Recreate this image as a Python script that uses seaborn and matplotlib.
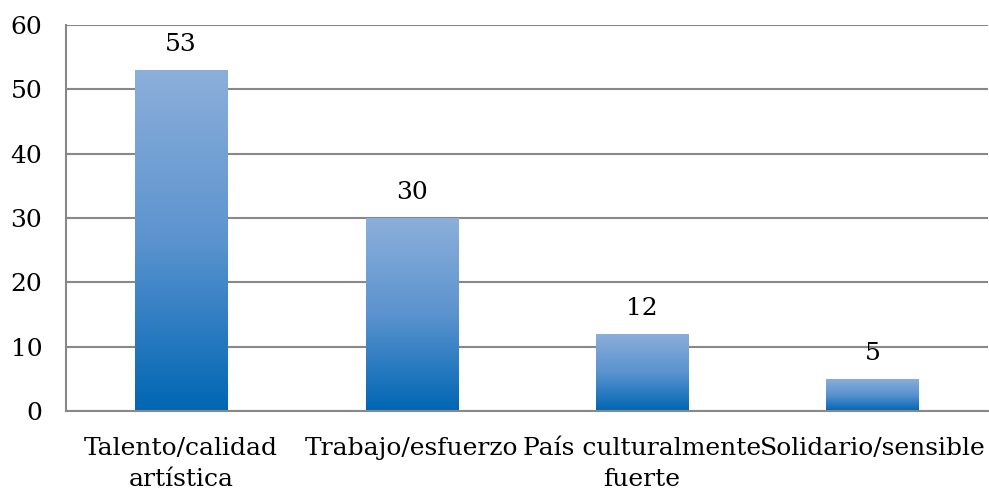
import matplotlib.pyplot as plt
import matplotlib.colors as mcolors
import numpy as np
import seaborn as sns
import pandas as pd

categorias = ['Talento/calidad\nartística', 'Trabajo/esfuerzo',
              'País culturalmente\nfuerte', 'Solidario/sensible']
valores = [53, 30, 12, 5]

sns.set_style('white')
plt.rcParams.update({'font.family': ['DejaVu Serif'],
                     'font.size': 18,
                     'text.color': 'black',
                     'xtick.labelcolor': 'black',
                     'ytick.labelcolor': 'black'})

fig = plt.figure(figsize=(9.89, 4.92), dpi=100)
ax = fig.add_axes([0.0667, 0.165, 0.932, 0.784])

df = pd.DataFrame({'cat': categorias, 'val': valores})
sns.barplot(data=df, x='cat', y='val', ax=ax, width=0.4, color='#4f8ac9')

# degradado vertical en cada barra
cmap = mcolors.LinearSegmentedColormap.from_list('azul', ['#0066b3', '#5b93cf', '#8cafda'])
grad = np.linspace(0, 1, 256).reshape(-1, 1)
for p in ax.patches:
    x0, y0 = p.get_x(), p.get_y()
    w, h = p.get_width(), p.get_height()
    p.set_facecolor('none')
    p.set_edgecolor('none')
    im = ax.imshow(grad, cmap=cmap, origin='lower', aspect='auto',
                   extent=[x0, x0 + w, y0, y0 + h], zorder=2)
    im.set_clip_path(p)
    ax.annotate(f'{int(h)}', (x0 + w / 2, h), xytext=(0, 10),
                textcoords='offset points', ha='center', va='bottom', fontsize=18)

ax.set_xlim(-0.5, len(categorias) - 0.5)
ax.set_ylim(0, 60)
ax.set_yticks(range(0, 61, 10))
ax.yaxis.grid(True, color='#888888', linewidth=1.5)
ax.set_axisbelow(True)
ax.set_xlabel('')
ax.set_ylabel('')

ax.set_xticks(np.arange(len(categorias)))
ax.set_xticklabels(categorias, ha='center', linespacing=1.45)
ax.tick_params(axis='x', length=0, pad=19)
ax.set_xticks(np.arange(-0.5, len(categorias), 1), minor=True)
ax.tick_params(axis='x', which='minor', length=8, width=1.5, color='#888888', direction='out')
ax.tick_params(axis='y', length=8, width=1.5, color='#888888', direction='out', pad=9)

for s in ['top', 'right']:
    ax.spines[s].set_visible(False)
for s in ['left', 'bottom']:
    ax.spines[s].set_color('#888888')
    ax.spines[s].set_linewidth(1.5)

plt.savefig('out.png', dpi=100)
